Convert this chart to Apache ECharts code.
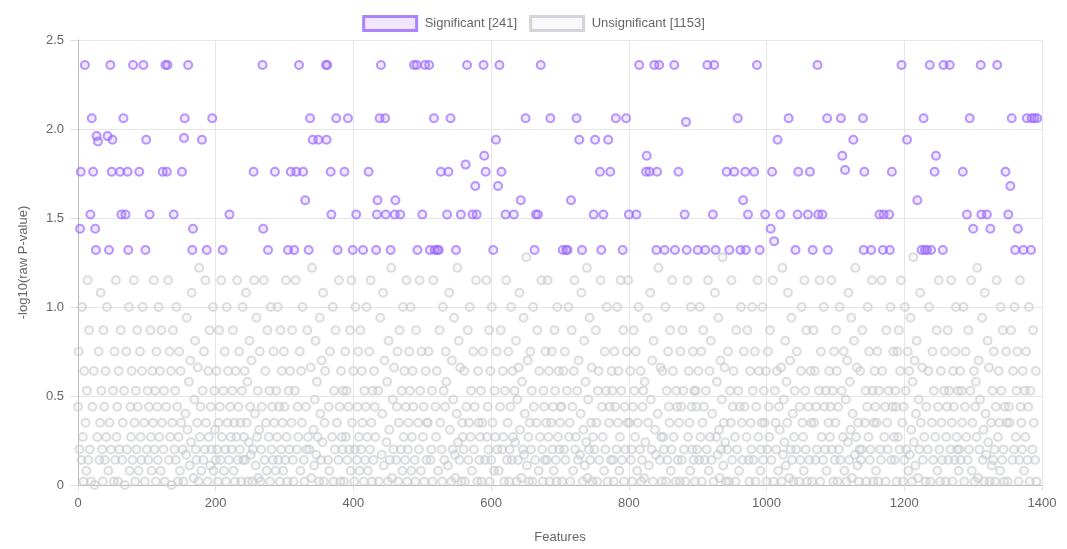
<!DOCTYPE html>
<html>
<head>
<meta charset="utf-8">
<script src="https://cdn.jsdelivr.net/npm/echarts@6/dist/echarts.min.js"></script>
<style>html,body{margin:0;padding:0;background:#fff}#chart{width:1067px;height:549px}</style>
</head>
<body>
<div id="chart"></div>
<script>
// Significant features: index and -log10(p)
const sigIdx = [
3,4,10,18,20,22,25,26,27,29,43,45,47,49,50,61,63,66,69,72,73,80,89,95,98,99,104,123,127,129,130,139,151,154,155,160,166,167,180,187,195,210,220,255,268,269,276,
286,305,309,314,317,321,327,330,335,337,341,349,360,361,362,367,368,375,377,387,392,399,404,414,422,433,434,435,438,440,446,447,454,460,461,468,488,492,493,500,504,510,511,517,518,522,524,527,536,538,541,549,556,
563,565,573,577,579,589,590,592,603,607,610,612,615,621,633,643,650,663,665,668,672,686,704,709,711,716,724,728,732,749,751,758,760,763,770,773,781,791,796,800,811,815,825,826,830,837,840,841,844,
852,866,867,872,881,883,884,900,911,914,922,924,926,942,946,953,958,962,966,969,970,973,982,986,990,998,1006,1008,1011,1016,1020,1032,1042,1045,1046,1060,1063,1067,1074,1075,1081,1088,1089,1108,1110,1114,1126,
1140,1141,1142,1152,1164,1169,1170,1178,1179,1182,1196,1204,1219,1225,1228,1230,1233,1237,1239,1244,1246,1256,1257,1266,1285,1291,1295,1300,1311,1312,1320,1325,1335,1347,1351,1354,1356,1361,1365,1373,1378,1384,1385,1389,1393
];
const sigVal = [
1.44,1.76,2.36,1.52,2.06,1.76,1.44,1.32,1.96,1.93,1.96,1.32,2.36,1.76,1.94,1.76,1.52,2.06,1.52,1.76,1.32,2.36,1.76,2.36,1.32,1.94,1.52,1.76,2.36,1.76,2.36,1.52,1.76,1.95,2.06,2.36,1.32,1.44,1.94,1.32,2.06,1.32,1.52,1.76,2.36,1.44,1.32,
1.76,1.32,1.76,1.32,1.76,2.36,1.76,1.6,1.32,2.06,1.94,1.94,2.36,1.94,2.36,1.76,1.52,2.06,1.32,1.76,2.06,1.32,1.52,1.32,1.76,1.32,1.52,1.6,2.06,2.36,2.06,1.52,1.32,1.52,1.6,1.52,2.36,2.36,1.32,1.52,2.36,2.36,1.32,2.06,1.32,1.32,1.32,1.76,1.52,1.76,2.06,1.32,1.52,
1.8,2.36,1.52,1.68,1.52,2.36,1.85,1.76,1.32,1.94,1.68,2.36,1.76,1.52,1.52,1.6,2.06,1.32,1.52,1.52,2.36,2.06,1.32,1.32,1.32,1.6,2.06,1.94,1.32,1.52,1.94,1.76,1.32,1.52,1.94,1.76,2.06,1.32,2.06,1.52,1.52,2.36,1.76,1.85,1.76,2.36,1.32,1.76,2.36,
1.32,2.36,1.32,1.76,1.52,2.04,1.32,1.32,1.32,2.36,1.52,2.36,1.32,1.76,1.32,1.76,2.06,1.32,1.6,1.76,1.32,1.52,1.76,2.36,1.32,1.52,1.44,1.76,1.37,1.94,1.52,2.06,1.32,1.52,1.76,1.52,1.76,1.32,2.36,1.52,1.52,2.06,1.32,2.06,1.85,1.77,1.94,
2.06,1.32,1.76,1.32,1.52,1.32,1.52,1.52,1.32,1.76,2.36,1.94,1.6,1.32,2.06,1.32,1.32,2.36,1.32,1.76,1.85,1.32,2.36,2.36,1.76,1.52,2.06,1.44,2.36,1.52,1.52,1.44,2.36,1.76,1.52,1.68,2.06,1.32,1.44,1.32,2.06,1.32,2.06,2.06,2.06
];
// Unsignificant features, in feature order (filling the remaining indices)
const unsigVal = [
.44,.75,.2,.14,1,.27,.02,.64,.35,.08,.53,1.15,.14,.87,.2,.02,.44,.64,0,.27,
.75,.14,.35,1.08,.53,.2,.02,.87,.44,.14,.64,.27,1,.08,.35,.2,.53,.02,.75,.14,
1.15,.27,.44,.02,.64,.2,.87,.14,.35,.53,0,.75,.2,1,.08,.44,.27,.64,.14,1.15,
.35,.02,.53,.2,.87,.44,.08,.75,.27,.14,.64,1,.35,.02,.2,.53,.14,.44,.87,.27,
.08,.64,.35,1.15,.2,.53,.02,.75,.44,.14,1,.27,.64,.08,.87,.35,.2,.53,.02,.44,
1.15,.14,.75,.27,.64,0,.35,.87,.2,.53,.14,1,.44,.02,.27,.75,.08,.64,.35,.2,
.02,.4,.17,.94,.31,.58,.11,.7,.24,1.08,.04,.48,.81,.2,.14,.35,.66,.02,1.22,.27,
.44,.08,.53,.14,.75,.2,1.15,.35,.02,.64,.27,.87,.11,.44,.2,1,.08,.53,.31,.14,
.64,.2,.02,.35,.87,.44,.14,1.15,.27,.53,.08,.75,.2,.02,1,.35,.64,.14,.44,.27,
.2,.53,.87,.08,.35,.02,.64,.27,1.15,.14,.44,.75,.2,.35,.02,.53,1,.14,.27,.64,
.14,1.08,.35,.58,.02,.24,.81,.44,.17,.7,.02,.2,1.15,.4,.11,.94,.27,.53,.04,.31,
.75,.02,.2,.44,1.15,.14,.64,.35,.08,.87,.27,.53,.02,1,.2,.44,.14,.75,.35,.08,
.53,.27,1,.14,.44,.02,.87,.2,.64,.35,.08,.75,.44,.14,1.15,.27,.02,.53,.2,.64,
.35,.87,.14,.02,.53,1.15,.2,.44,.27,.75,.08,.64,.35,1,.14,.02,.44,.2,.87,.27,
.2,.66,.04,1.22,.31,.11,.48,.81,.17,.58,.27,.02,.94,.4,.14,.7,.24,1.08,.02,.35,
.64,.14,.44,.08,.75,.27,1,.02,.53,.2,.87,.35,.14,1.15,.44,.02,.64,.27,.2,.53,
.02,.75,.27,.53,.14,.44,.2,.87,.08,1.15,.35,.64,.02,.2,1,.14,.44,.75,.27,.08,
.87,.2,.64,.35,.02,.53,.14,.44,1,.27,.08,.75,.2,1.15,.35,.02,.53,.14,.64,.44,
.27,.53,.02,.94,.17,.4,1.08,.11,.7,.24,.58,.02,.81,.31,.14,1.22,.04,.48,.2,.66,
.14,.44,.75,.02,.35,.87,.2,.53,.08,1,.27,.64,.14,.44,1.15,.02,.2,.35,.75,.53,
1,.08,.27,.64,.44,.14,.02,.87,.35,.2,1.15,.53,.08,.75,.27,.44,.02,.64,.14,.35,
.35,.75,.14,.2,.53,.02,1.15,.44,.27,.64,.08,.87,.35,.2,.02,1,.53,.14,.44,.75,
.58,.11,1.08,.31,.02,.7,.2,.48,.94,.17,.04,.4,1.22,.24,.81,.14,.66,.02,.35,.27,
.2,.64,.02,.44,.87,.14,.35,1,.27,.53,.08,.75,.2,.44,1.15,.02,.64,.35,.14,.27,
.53,.02,.35,.75,.14,1.15,.27,.44,.2,.87,.02,.64,.14,1,.35,.08,.53,.27,.75,.2,
.08,.44,.87,.2,.64,.27,.02,.53,1.15,.14,.35,.75,.02,.2,.44,1,.14,.64,.27,.53,
.24,.81,.02,.48,.14,.66,1.08,.31,.04,.58,.2,.94,.17,.4,1.28,.11,.7,.27,.02,.35,
.75,.2,.53,.02,1,.44,.14,.35,.87,.08,.64,.27,1.15,.2,.02,.53,.44,.14,.75,.35,
.14,1.15,.27,.64,.02,.35,.75,.2,.44,.08,.87,.53,.14,.02,1,.27,.64,.2,.35,.44,
.44,.02,.64,.2,.75,.14,.53,1,.27,.35,.02,.87,.44,.08,.64,1.15,.2,.27,.53,.14,
.7,.17,.4,1.08,.02,.31,.81,.11,.58,.24,1.22,.04,.48,.2,.94,.14,.35,.66,.02,.27,
.2,.87,.35,.02,.53,.64,.14,1.15,.44,.27,.08,.75,.2,.53,1,.02,.35,.44,.14,.64,
.53,.14,.02,.75,.44,.2,1,.35,.64,.08,.27,1.15,.53,.14,.87,.02,.44,.2,.75,.35,
1.15,.35,.64,.14,.2,.02,.44,.87,.53,.27,.75,.08,.35,1,.2,.64,.02,.14,.44,.53,
.04,.58,.24,.94,.35,.11,1.08,.48,.2,.7,.02,.81,.31,.17,.4,1.22,.14,.66,.27,.02,
.64,.27,.2,1,.02,.53,.14,.75,.44,.35,.87,.08,.2,1.15,.64,.27,.02,.53,.44,.14,
.35,.02,.75,.44,.14,.87,.53,.2,.02,1.15,.27,.64,.35,.08,1,.44,.2,.75,.14,.53,
.02,.53,.44,.2,.64,.14,1,.27,.75,.02,.35,.87,.44,.14,.53,.2,1.15,.08,.64,.27,
.81,.14,.4,.02,1.08,.27,.58,.17,.94,.31,.04,.7,.2,.48,1.28,.11,.35,.66,.24,.02,
.2,.75,.02,.53,.35,1.15,.14,.44,.64,.27,.02,.87,.2,.53,.08,.44,1,.35,.14,.75,
.44,.27,.87,.14,.02,.64,.35,.2,1,.53,.14,.75,.02,.44,1.15,.27,.64,.08,.2,.35,
1,.14,.53,.35,.64,.02,.2,.75,.44,.27,.87,.14,1.15,.02,.53,.35,.2,.64,.08,.44,
.31,.66,.02,1.22,.17,.48,.24,.81,.11,.58,.35,1.08,.04,.7,.2,.94,.14,.4,.02,.27,
.53,.2,.75,.02,.44,.14,.64,1,.35,.27,.08,1.15,.53,.2,.87,.02,.44,.14,.64,.35,
.02,.87,.35,.64,.14,.44,.2,.53,1.15,.02,.75,.27,.14,1,.44,.2,.53,.08,.35,.64,
.27,.44,1.15,.2,.53,.02,.75,.14,.35,.87,.64,.02,.44,.2,1,.14,.53,.27,.75,.08,
.48,.02,.7,.24,1.08,.14,.58,.31,.94,.04,.4,.81,.17,1.22,.27,.66,.11,.35,.02,.2,
.64,.14,.2,.87,.35,.53,.02,.44,1,.27,.75,.14,.2,1.15,.53,.02,.35,.64,.44,.08,
.35,.75,.02,.53,.2,.14,1.15,.64,.27,.44,.02,.87,.35,.2,.53,1,.14,.44,.75,.27,
.14,.53,.44,.02,.75,.27,.87,.2,.64,1.15,.35,.02,.44,.14,1,.53,.2,.75,.08,.64,
.17,.94,.31,.02,.58,1.28,.24,.7,.11,.4,.81,.04,.48,.2,1.08,.35,.66,.14,.27,.02,
.44,.2,.64,1,.02,.35,.75,.14,.53,.27,.87,.08,.44,1.15,.2,.02,.64,.35,.14,.53,
.75,.02,.27,.44,.87,.14,.53,.2,1.15,.35,.02,.64,.44,.14,.75,1,.27,.2,.53,.08,
.2,.64,.14,.53,.35,1,.02,.44,.75,.27,.14,.87,.2,.53,1.15,.08,.35,.64,.02,.44,
.58,.27,1.22,.04,.7,.2,.48,.94,.14,.31,.02,1.08,.4,.17,.81,.24,.66,.02,.35,.11,
.53,.14,.75,.2,.02,.44,1.15,.27,.64,.35,.08,1,.53,.14,.87,.2,.02,.44,.75,.35,
.02,.44,.35,.87,.14,.64,.2,1,.27,.53,.75,.02,.14,1.15,.44,.35,.2,.64,.08,.53,
.27,.75,.14,.44,1,.02,.53,.2,.87,.35,.14,.64,.02
];
const xTicks = {min: 0, max: 1400, interval: 200};
const yTicks = {min: 0, max: 2.5, interval: 0.5};

const total = sigIdx.length + unsigVal.length;
const sigMap = new Map(sigIdx.map((x, i) => [x, sigVal[i]]));
const sigData = [], unsigData = [];
let k = 0;
for (let i = 0; i < total; i++) {
  if (sigMap.has(i)) sigData.push([i, sigMap.get(i)]);
  else if (k < unsigVal.length) unsigData.push([i, unsigVal[k++]]);
}
const sigName = 'Significant [' + sigData.length + ']';
const unsigName = 'Unsignificant [' + unsigData.length + ']';

const purple = 'rgba(153,102,255,0.85)';
const purpleFill = 'rgba(153,102,255,0.2)';
const grey = 'rgba(201,203,207,0.8)';
const greyFill = 'rgba(201,203,207,0.15)';
const font = 'Arial, "Liberation Sans", sans-serif';

const chart = echarts.init(document.getElementById('chart'), null, {renderer: 'canvas'});
chart.setOption({
  animation: false,
  backgroundColor: '#fff',
  textStyle: {fontFamily: font},
  legend: {
    top: 10, left: 'center', itemWidth: 53, itemHeight: 14, itemGap: 12,
    textStyle: {color: '#666', fontSize: 13, fontFamily: font, padding: [0, 0, 0, 3]},
    data: [
      {name: sigName, icon: 'rect', itemStyle: {color: purpleFill, borderColor: 'rgba(153,102,255,1)', borderWidth: 3}},
      {name: unsigName, icon: 'rect', itemStyle: {color: greyFill, borderColor: 'rgba(201,203,207,1)', borderWidth: 3}}
    ]
  },
  grid: {left: 78, right: 25, top: 40, bottom: 62, containLabel: false},
  xAxis: {
    type: 'value', min: xTicks.min, max: xTicks.max, interval: xTicks.interval,
    name: 'Features', nameLocation: 'middle', nameGap: 46,
    nameTextStyle: {color: '#666', fontSize: 13, fontFamily: font},
    axisLine: {show: true, onZero: false, lineStyle: {color: '#bbb'}},
    axisTick: {show: true, length: 6, lineStyle: {color: '#e0e0e0'}},
    axisLabel: {color: '#666', fontSize: 13, margin: 12, fontFamily: font, formatter: v => String(v)},
    splitLine: {show: true, lineStyle: {color: '#e6e6e6'}}
  },
  yAxis: {
    type: 'value', min: yTicks.min, max: yTicks.max, interval: yTicks.interval,
    name: '-log10(raw P-value)', nameLocation: 'middle', nameGap: 48,
    nameTextStyle: {color: '#666', fontSize: 13, fontFamily: font},
    axisLine: {show: true, lineStyle: {color: '#bbb'}},
    axisTick: {show: true, length: 8, lineStyle: {color: '#e0e0e0'}},
    axisLabel: {color: '#666', fontSize: 13, margin: 14, fontFamily: font,
      formatter: v => v === 0 ? '0' : v.toFixed(1)},
    splitLine: {show: true, lineStyle: {color: '#e6e6e6'}}
  },
  series: [
    {
      name: unsigName, type: 'scatter', data: unsigData, symbol: 'circle', symbolSize: 8,
      itemStyle: {color: greyFill, borderColor: grey, borderWidth: 2},
      emphasis: {disabled: true}, z: 2
    },
    {
      name: sigName, type: 'scatter', data: sigData, symbol: 'circle', symbolSize: 8,
      itemStyle: {color: purpleFill, borderColor: purple, borderWidth: 2},
      emphasis: {disabled: true}, z: 3
    }
  ]
});
</script>
</body>
</html>
